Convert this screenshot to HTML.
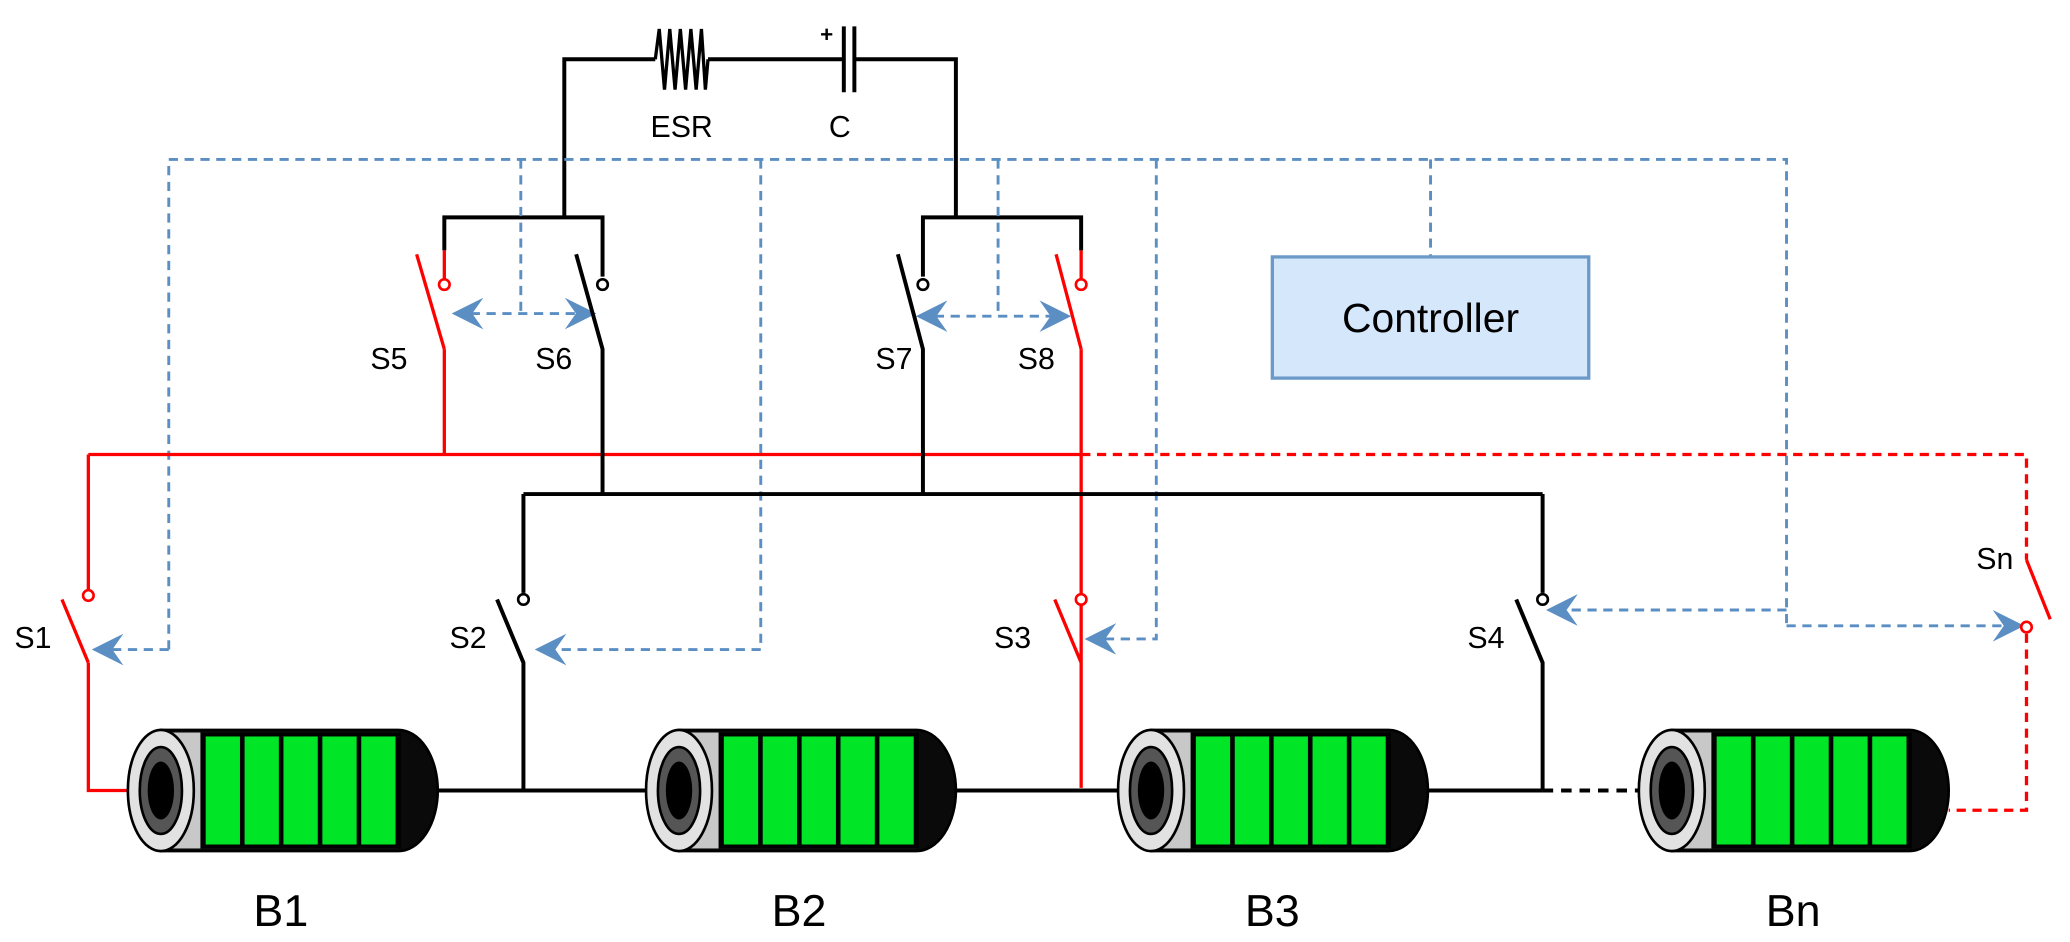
<!DOCTYPE html>
<html><head><meta charset="utf-8"><style>html,body{margin:0;padding:0;background:#fff;}svg{display:block}</style></head>
<body>
<svg width="2070" height="942" viewBox="0 0 1570 715" preserveAspectRatio="none" xmlns="http://www.w3.org/2000/svg" font-family="Liberation Sans, sans-serif">
<defs>
<marker id="ar" viewBox="0 0 10 10" refX="9" refY="5" markerWidth="24" markerHeight="24" orient="auto-start-reverse" markerUnits="userSpaceOnUse">
<path d="M0,0 L10,5 L0,10 L3.5,5 Z" fill="#5b8fc4"/></marker>
<g id="bat">
<path d="M25,0 H205 A30,46 0 0 1 205,92 H25 Z" fill="#0a0a0a" stroke="#000" stroke-width="2"/>
<rect x="25" y="2" width="180" height="88" fill="#c8c8c8"/>
<rect x="55" y="2" width="152" height="88" fill="#000"/>
<rect x="59" y="5" width="26" height="82" fill="#00e626"/>
<rect x="88.5" y="5" width="26" height="82" fill="#00e626"/>
<rect x="118" y="5" width="26" height="82" fill="#00e626"/>
<rect x="147.5" y="5" width="26" height="82" fill="#00e626"/>
<rect x="177" y="5" width="26" height="82" fill="#00e626"/>
<ellipse cx="25" cy="46" rx="25" ry="46" fill="#e2e2e2" stroke="#000" stroke-width="2"/>
<ellipse cx="25" cy="46" rx="16" ry="33" fill="#555" stroke="#000" stroke-width="2"/>
<ellipse cx="25" cy="46" rx="10" ry="22" fill="#000"/>
</g>
</defs>

<g stroke="#000" stroke-width="3" fill="none">
<path d="M428,165 V45 H497 M537,45 H640 M648,45 H725 V165"/>
<path d="M497,45 L500,22 L504,68 L508,22 L512,68 L516,22 L520,68 L524,22 L528,68 L532,22 L535,68 L537,45" stroke-width="2.5"/>
<path d="M640,20 V70 M648,20 V70"/>
<path d="M337,190 V165 H457 V210 M700,210 V165 H820 V190"/>
</g>
<text x="622" y="32" font-size="17" font-weight="bold">+</text>
<text x="517" y="104" font-size="23" text-anchor="middle">ESR</text>
<text x="637" y="104" font-size="23" text-anchor="middle">C</text>

<g stroke="#5b8fc4" stroke-width="2.2" fill="none" stroke-dasharray="7,5">
<path d="M128,493 V121 H1355 V475"/>
<path d="M395,121 V240"/>
<path d="M577,121 V493 H408" marker-end="url(#ar)"/>
<path d="M128,493 H72" marker-end="url(#ar)"/>
<path d="M757,121 V240"/>
<path d="M877,121 V485 H825" marker-end="url(#ar)"/>
<path d="M1085,121 V195"/>
<path d="M1355,475 H1533" marker-end="url(#ar)"/>
<path d="M1355,463 H1175" marker-end="url(#ar)"/>
<path d="M345,238 H450" marker-start="url(#ar)" marker-end="url(#ar)"/>
<path d="M697,240 H810" marker-start="url(#ar)" marker-end="url(#ar)"/>
</g>

<rect x="965" y="195" width="240" height="92" fill="#d5e8fb" stroke="#6c9ac8" stroke-width="2.5"/>
<text x="1085" y="252" font-size="31" text-anchor="middle">Controller</text>

<g stroke="#f00" stroke-width="2.5" fill="none">
<path d="M337,190 V212 M337,265 V345 M67,345 H820 M67,345 V450 M67,503 V600 H97"/>
<path d="M316,193 L337,265"/>
<path d="M820,190 V212 M820,265 V598"/>
<path d="M801,193 L820,265"/>
<path d="M47,455 L67,503"/>
<path d="M800,455 L820,503"/>
<path d="M1537,425 L1555,470"/>
</g>
<g stroke="#f00" stroke-width="2.5" fill="none" stroke-dasharray="7,5">
<path d="M820,345 H1537 V425"/>
<path d="M1537,481 V615 H1478"/>
</g>
<g fill="#fff" stroke="#f00" stroke-width="2">
<circle cx="337" cy="216" r="4"/><circle cx="820" cy="216" r="4"/>
<circle cx="67" cy="452" r="4"/><circle cx="820" cy="455" r="4"/><circle cx="1537" cy="476" r="4"/>
</g>

<g stroke="#000" stroke-width="3" fill="none">
<path d="M437,193 L457,265 V375 M681,193 L700,265 V375"/>
<path d="M397,375 H1170 M397,375 V450 M1170,375 V450"/>
<path d="M377,455 L397,503 V600 M1150,455 L1170,503 V600"/>
<path d="M332,600 H490 M725,600 H848 M1083,600 H1170"/>
<path d="M1170,600 H1243" stroke-dasharray="8,6"/>
</g>
<g fill="#fff" stroke="#000" stroke-width="2">
<circle cx="457" cy="216" r="4"/><circle cx="700" cy="216" r="4"/>
<circle cx="397" cy="455" r="4"/><circle cx="1170" cy="455" r="4"/>
</g>

<use href="#bat" x="97" y="554"/>
<use href="#bat" x="490" y="554"/>
<use href="#bat" x="848" y="554"/>
<use href="#bat" x="1243" y="554"/>

<g font-size="23" text-anchor="middle">
<text x="295" y="280">S5</text><text x="420" y="280">S6</text>
<text x="678" y="280">S7</text><text x="786" y="280">S8</text>
<text x="25" y="492">S1</text><text x="355" y="492">S2</text>
<text x="768" y="492">S3</text><text x="1127" y="492">S4</text>
<text x="1513" y="432">Sn</text>
</g>
<g font-size="34" text-anchor="middle">
<text x="213" y="703">B1</text><text x="606" y="703">B2</text>
<text x="965" y="703">B3</text><text x="1360" y="703">Bn</text>
</g>
</svg>
</body></html>
